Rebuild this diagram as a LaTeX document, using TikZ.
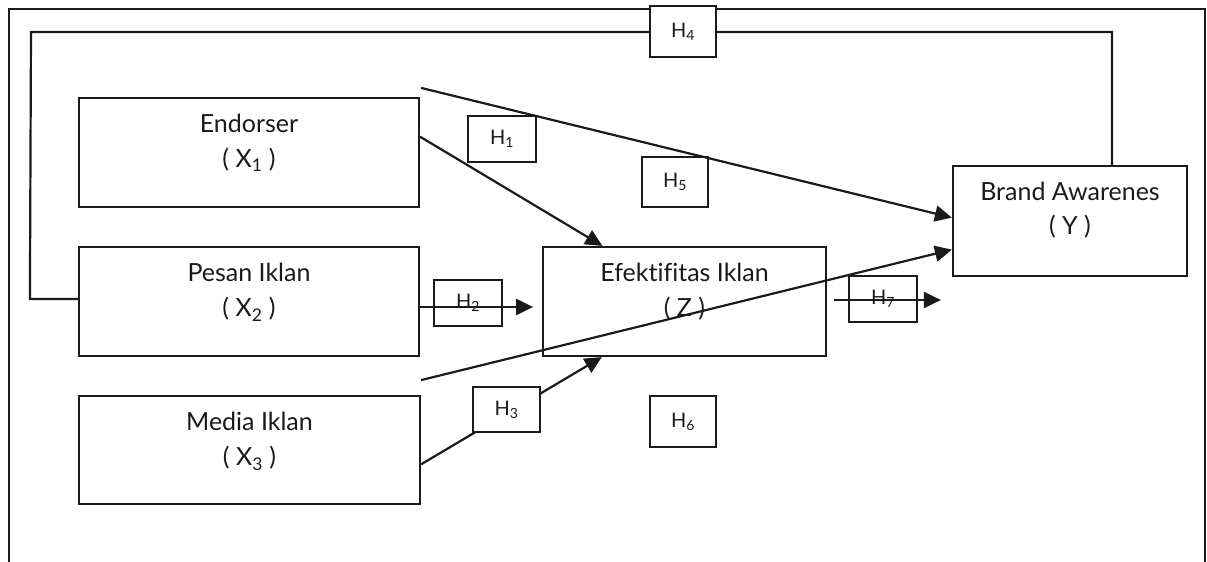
\documentclass[tikz,border=0pt]{standalone}
\usepackage{fontspec}
\setmainfont{Lato}[Ligatures=NoCommon]
\usetikzlibrary{arrows.meta,calc}
\definecolor{ink}{HTML}{1A1A1A}
\begin{document}
\begin{tikzpicture}[x=1pt,y=-1pt,
  vbox/.style={draw=ink, line width=2.2pt, inner sep=0pt},
  hbox/.style={draw=ink, line width=2.2pt, inner sep=0pt, text=ink,
    font=\fontsize{20}{22}\selectfont},
  lbl/.style={anchor=base, inner sep=0pt, text=ink, font=\fontsize{25}{28}\selectfont},
  conn/.style={draw=ink, line width=2.2pt},
  arr/.style={conn, -{Triangle[length=17pt,width=16pt]}},
  frame/.style={draw=ink, line width=1.6pt}]
\useasboundingbox (0,0) rectangle (1207,562);

% outer frame
\coordinate (fbl) at (9,562);
\coordinate (ftl) at (9,9);
\coordinate (ftr) at (1205,9);
\coordinate (fbr) at (1205,562);
\draw[frame] (fbl) -- (ftl) -- (ftr) -- (fbr);

% main boxes
\node[vbox, minimum width=340pt, minimum height=109pt] (X1) at (249,152.5) {};
\node[vbox, minimum width=340pt, minimum height=109pt] (X2) at (249,301.5) {};
\node[vbox, minimum width=341pt, minimum height=108pt] (X3) at (249.5,450) {};
\node[vbox, minimum width=283pt, minimum height=109pt] (Z) at (684.5,301.5) {};
\node[vbox, minimum width=234pt, minimum height=110pt] (Y) at (1070,221) {};

\node[lbl] (X1a) at ($(X1.north)+(0,36)$) {Endorser};
\node[lbl] (X1b) at ($(X1.north)+(0,71)$) {( X\textsubscript{1} )};
\node[lbl] (X2a) at ($(X2.north)+(0,36)$) {Pesan Iklan};
\node[lbl] (X2b) at ($(X2.north)+(0,71)$) {( X\textsubscript{2} )};
\node[lbl] (X3a) at ($(X3.north)+(0,36)$) {Media Iklan};
\node[lbl] (X3b) at ($(X3.north)+(0,71)$) {( X\textsubscript{3} )};
\node[lbl] (Za) at ($(Z.north)+(0,36)$) {Efektifitas Iklan};
\node[lbl] (Zb) at ($(Z.north)+(0,71)$) {( Z )};
\node[lbl] (Ya) at ($(Y.north)+(0,36)$) {Brand Awarenes};
\node[lbl] (Yb) at ($(Y.north)+(0,70)$) {( Y )};

% H4 loop
\coordinate (L1) at ($(X2.west)+(-48,-2.5)$);
\coordinate (L2) at (31,32);
\coordinate (L3) at (1112,32);
\coordinate (L4) at (Y.north -| L3);
\draw[conn] ($(X2.west)+(0,-2.5)$) -- (L1) -- (L2) -- (L3) -- (L4);

% hypothesis boxes under the arrows
\node[hbox, minimum width=68pt, minimum height=46pt] (H1) at (502,139) {H\textsubscript{1}};
\node[hbox, minimum width=66pt, minimum height=50pt] (H5) at (675,182) {H\textsubscript{5}};
\node[hbox, minimum width=66pt, minimum height=51pt] (H6) at (683,421.5) {H\textsubscript{6}};
\node[hbox, minimum width=68pt, minimum height=46pt] (H2) at (468,303) {H\textsubscript{2}};
\node[hbox, minimum width=68pt, minimum height=46pt] (H7) at (883,299) {H\textsubscript{7}};

% connectors
\draw[arr] ($(X1.north east)!0.358!(X1.south east)$) -- ($(Z.north west)!0.212!(Z.north east)$);
\coordinate (s5) at ($(X1.north east)+(1,-9)$);
\draw[arr] (s5) -- ($(Y.north west)!0.47!(Y.south west)$);
\coordinate (s6) at ($(X2.south east)+(1,23)$);
\draw[arr] (s6) -- ($(Y.north west)!0.755!(Y.south west)$);
\coordinate (e2) at ($(X2.east)+(113,5.5)$);
\draw[arr] ($(X2.east)+(0,5.5)$) -- (e2);
\draw[arr] ($(X3.north east)!0.63!(X3.south east)$) -- ($(Z.south west)!0.21!(Z.south east)$);
\coordinate (s7) at ($(Z.east)+(7,-1.5)$);
\coordinate (e7) at ($(Y.west |- Z.east)+(-11,-1.5)$);
\draw[arr] (s7) -- (e7);

% boxes drawn over lines
\node[hbox, fill=white, minimum width=67pt, minimum height=45pt] (H3) at (506.5,409.5) {H\textsubscript{3}};
\node[hbox, fill=white, minimum width=66pt, minimum height=51pt] (H4) at (683,31.5) {H\textsubscript{4}};
\end{tikzpicture}
\end{document}
